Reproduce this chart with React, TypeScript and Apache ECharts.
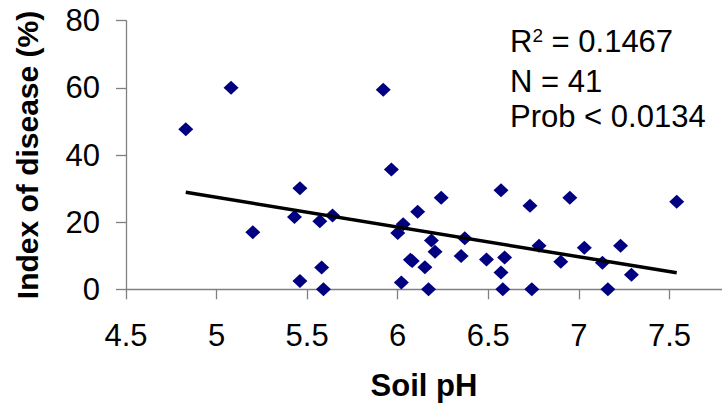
import React, { useEffect, useRef } from "react";
import * as echarts from "echarts";

// Soil pH (x) and index of disease in % (y)
const soilPH = [
  4.83, 5.08, 5.2, 5.43, 5.46, 5.46, 5.57, 5.58, 5.59, 5.64,
  5.92, 5.965, 6.0, 6.02, 6.03, 6.07, 6.08, 6.11, 6.15, 6.17,
  6.186, 6.206, 6.24, 6.35, 6.37, 6.49, 6.57, 6.57, 6.58, 6.59,
  6.73, 6.74, 6.78, 6.9, 6.95, 7.03, 7.13, 7.16, 7.23, 7.29, 7.54,
];
const diseaseIndex = [
  47.7, 60.0, 17.0, 21.5, 30.1, 2.5, 20.3, 6.5, 0, 22.0,
  59.4, 35.7, 16.8, 2.0, 19.4, 8.8, 8.4, 23.1, 6.6, 0,
  14.5, 11.2, 27.3, 9.9, 15.2, 8.9, 29.5, 5.0, 0, 9.5,
  24.9, 0, 13.0, 8.2, 27.3, 12.4, 7.9, 0, 13.0, 4.3, 26.1,
];
// Linear trend line end points (x, y) as drawn in the reference
const trendX = [4.83, 7.54];
const trendY = [28.9, 4.9];

const statLines = ["R{sup|2} = 0.1467", "N = 41", "Prob < 0.0134"];

const FONT = "'Liberation Sans', Arial, sans-serif";

export default function App() {
  const ref = useRef<HTMLDivElement>(null);
  useEffect(() => {
    document.body.style.margin = "0";
    if (!ref.current) return;
    const chart = echarts.init(ref.current, null, { renderer: "svg" });
    const axisColor = "#808080";
    chart.setOption({
      animation: false,
      backgroundColor: "#ffffff",
      textStyle: { fontFamily: FONT },
      grid: { left: 126, right: -4, top: 20.7, bottom: 117.7, containLabel: false },
      xAxis: {
        type: "value",
        min: 4.5,
        max: 7.79,
        interval: 0.5,
        name: "Soil pH",
        nameLocation: "middle",
        nameGap: 81,
        nameTextStyle: { fontFamily: FONT, fontSize: 31, fontWeight: "bold", color: "#000" },
        axisLine: { show: true, onZero: false, lineStyle: { color: axisColor, width: 1.3 } },
        axisTick: { show: true, inside: false, length: 10, lineStyle: { color: axisColor, width: 1.3 } },
        axisLabel: { fontFamily: FONT, fontSize: 31, color: "#000", margin: 31, showMaxLabel: false },
        splitLine: { show: false },
      },
      yAxis: {
        type: "value",
        min: 0,
        max: 80,
        interval: 20,
        name: "Index of disease (%)",
        nameLocation: "middle",
        nameGap: 84,
        nameTextStyle: { fontFamily: FONT, fontSize: 30, fontWeight: "bold", color: "#000" },
        axisLine: { show: true, onZero: false, lineStyle: { color: axisColor, width: 1.3 } },
        axisTick: { show: true, inside: false, length: 10, lineStyle: { color: axisColor, width: 1.3 } },
        axisLabel: { fontFamily: FONT, fontSize: 31, color: "#000", margin: 26, padding: [6, 0, 0, 0] },
        splitLine: { show: false },
      },
      series: [
        {
          type: "scatter",
          symbol: "diamond",
          symbolSize: [15, 14],
          itemStyle: { color: "#000080", opacity: 1 },
          data: soilPH.map((x, i) => [x, diseaseIndex[i]]),
          z: 2,
        },
        {
          type: "line",
          symbol: "none",
          lineStyle: { color: "#000", width: 3.5 },
          data: trendX.map((x, i) => [x, trendY[i]]),
          z: 3,
        },
      ],
      graphic: [
        {
          type: "text",
          left: 510,
          top: 26,
          style: {
            text: statLines[0],
            fontFamily: FONT,
            fontSize: 31,
            fill: "#000",
            rich: {
              sup: { fontFamily: FONT, fontSize: 19, verticalAlign: "top", fill: "#000" },
            },
          },
        },
        {
          type: "text",
          x: 510,
          y: 81,
          style: { text: statLines[1], fontFamily: FONT, fontSize: 31, fill: "#000", verticalAlign: "middle" },
        },
        {
          type: "text",
          x: 510,
          y: 116,
          style: { text: statLines[2], fontFamily: FONT, fontSize: 31, fill: "#000", verticalAlign: "middle" },
        },
      ],
    });
    return () => chart.dispose();
  }, []);
  return <div ref={ref} style={{ width: 722, height: 407 }} />;
}
